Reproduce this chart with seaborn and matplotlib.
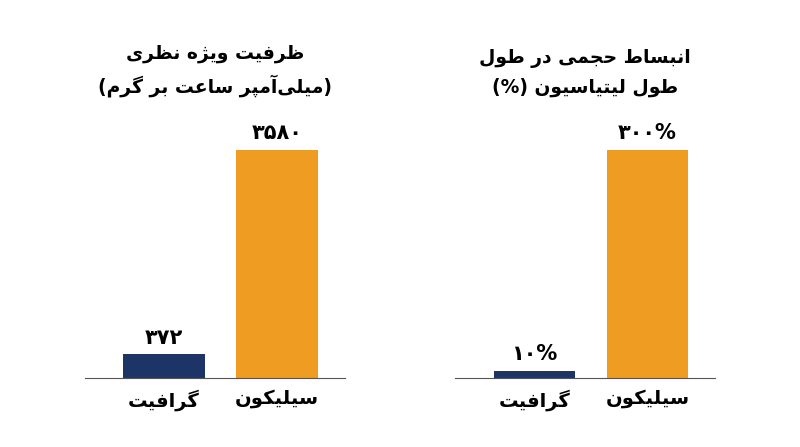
import unicodedata
import pandas as pd
import seaborn as sns
from matplotlib import pyplot as plt

# data
cats = ['گرافیت', 'سیلیکون']
capacity = [372, 3580]
capacity_labels = ['۳۷۲', '۳۵۸۰']
expansion = [10, 300]
expansion_labels = ['۱۰%', '۳۰۰%']
titles = ['ظرفیت ویژه نظری\n(میلی‌آمپر ساعت بر گرم)',
          'انبساط حجمی در طول\nطول لیتیاسیون (%)']
colors = ['#1d3566', '#ee9c22']

# tiny arabic shaper (matplotlib does no shaping / bidi)
forms = {}
for cp in range(0xFB50, 0xFF00):
    d = unicodedata.decomposition(chr(cp)).split()
    if len(d) == 2 and d[0] in ('<isolated>', '<final>', '<initial>', '<medial>'):
        base = chr(int(d[1], 16))
        forms.setdefault(base, {}).setdefault(d[0][1:-1], chr(cp))


def dual(c):
    return c in forms and 'initial' in forms[c]


def shape_line(s):
    out = []
    for i, c in enumerate(s):
        if c == '\u200c':
            continue
        if c not in forms:
            out.append(c)
            continue
        p = s[i - 1] if i > 0 else ''
        n = s[i + 1] if i + 1 < len(s) else ''
        jp = dual(p)
        jn = dual(c) and n in forms
        f = {(True, True): 'medial', (True, False): 'final',
             (False, True): 'initial', (False, False): 'isolated'}[(jp, jn)]
        out.append(forms[c].get(f, forms[c].get('isolated', c)))
    r = ''.join(reversed(out))
    return r.translate(str.maketrans('()', ')('))


def shape(s):
    return '\n'.join(shape_line(l) for l in s.split('\n'))


plt.rcParams['font.family'] = ['DejaVu Sans']
fig = plt.figure(figsize=(8, 4.47), dpi=100)
panels = [(capacity, capacity_labels, 4177, 0.106),
          (expansion, expansion_labels, 350, 0.569)]
for k, (vals, labs, ymax, x0) in enumerate(panels):
    ax = fig.add_axes([x0, 0.154, 0.325, 0.596])
    df = pd.DataFrame({'cat': [shape(c) for c in cats], 'v': vals})
    sns.barplot(data=df, x='cat', y='v', hue='cat', palette=colors,
                width=0.72, legend=False, ax=ax, saturation=1)
    ax.set_ylim(0, ymax)
    ax.set_xlim(-0.7, 1.6)
    for i, (v, l) in enumerate(zip(vals, labs)):
        ax.text(i, v + ymax * 0.025, l, ha='center', va='bottom',
                fontsize=15, fontweight='bold')
    sns.despine(ax=ax, left=True)
    ax.set_yticks([])
    ax.set_xlabel('')
    ax.set_ylabel('')
    ax.tick_params(axis='x', length=0, labelsize=14, pad=8)
    for t in ax.get_xticklabels():
        t.set_fontweight('bold')
    ax.spines['bottom'].set_color('#555555')
    ax.set_title(shape(titles[k]), fontsize=13.5, fontweight='bold',
                 pad=14, linespacing=1.6)

plt.savefig('out.png')
